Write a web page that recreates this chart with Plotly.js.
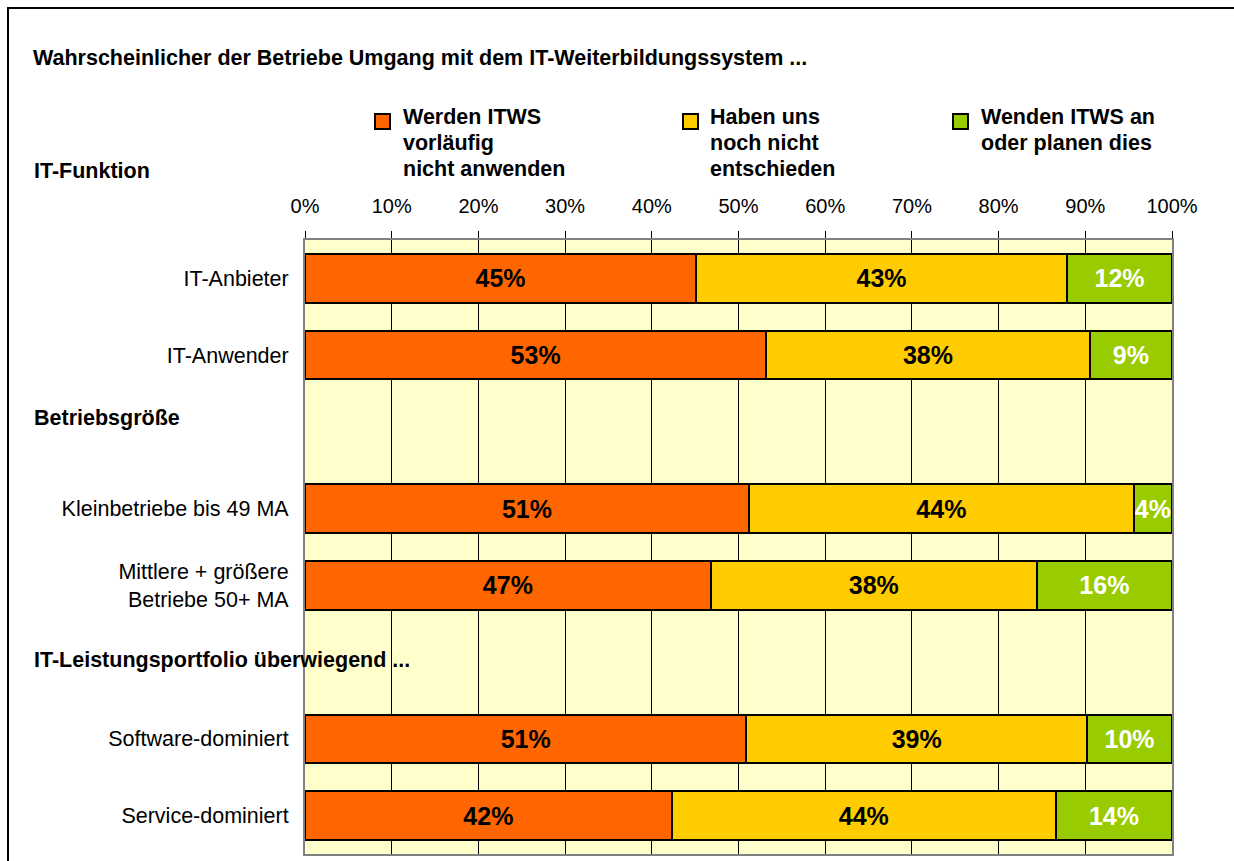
<!DOCTYPE html>
<html>
<head>
<meta charset="utf-8">
<script src="https://cdn.plot.ly/plotly-3.0.1.min.js"></script>
<style>
  html, body { margin: 0; padding: 0; background: #ffffff; }
  #chart { width: 1234px; height: 861px; }
</style>
</head>
<body>
<div id="chart"></div>
<script>
// ---- data ----
const categories = [
  'IT-Anbieter',
  'IT-Anwender',
  ' ',
  'Kleinbetriebe bis 49 MA',
  'Mittlere + größere<br>Betriebe 50+ MA',
  '  ',
  'Software-dominiert',
  'Service-dominiert'
];
const seriesNames = [
  'Werden ITWS<br>vorläufig<br>nicht anwenden',
  'Haben uns<br>noch nicht<br>entschieden',
  'Wenden ITWS an<br>oder planen dies'
];
const notApplying = [45.1, 53.2, null, 51.2, 46.8, null, 50.9, 42.3];
const undecided   = [42.8, 37.3, null, 44.4, 37.6, null, 39.3, 44.3];
const applying    = [12.1,  9.5, null,  4.4, 15.6, null,  9.8, 13.4];
const notApplyingLabels = ['45%', '53%', '', '51%', '47%', '', '51%', '42%'];
const undecidedLabels   = ['43%', '38%', '', '44%', '38%', '', '39%', '44%'];
const applyingLabels    = ['12%', '9%',  '', '4%',  '16%', '', '10%', '14%'];
const tickValues = [0, 10, 20, 30, 40, 50, 60, 70, 80, 90, 100];
const tickLabels = ['0%', '10%', '20%', '30%', '40%', '50%', '60%', '70%', '80%', '90%', '100%'];
const chartTitle = 'Wahrscheinlicher der Betriebe Umgang mit dem IT-Weiterbildungssystem ...';
const groupHeadings = ['IT-Funktion', 'Betriebsgröße', 'IT-Leistungsportfolio überwiegend ...'];

// ---- styles / geometry ----
const W = 1234, H = 861;
const M = {l: 305, r: 62, t: 240, b: 7};
const plotW = W - M.l - M.r, plotH = H - M.t - M.b;
const px = x => (x - M.l) / plotW;
const py = y => (H - M.b - y) / plotH;
const colors = ['#FF6600', '#FFCC00', '#99CC00'];
const textColors = ['#000000', '#000000', '#FFFFFF'];
const FONT = '"Liberation Sans", Arial, Helvetica, sans-serif';
const TXT = 21.5;

const values = [notApplying, undecided, applying];
const labels = [notApplyingLabels, undecidedLabels, applyingLabels];

const traces = values.map((v, i) => ({
  type: 'bar',
  orientation: 'h',
  name: seriesNames[i],
  y: categories,
  x: v,
  text: labels[i],
  textposition: 'inside',
  insidetextanchor: 'middle',
  textangle: 0,
  constraintext: 'none',
  textfont: {family: FONT, size: 25, weight: 'bold', color: textColors[i]},
  marker: {color: colors[i], line: {color: '#000000', width: 2}},
  hoverinfo: 'name+x',
  showlegend: false,
  cliponaxis: false
}));

// legend drawn as annotations + squares
const legendPos = [{sx: 375, tx: 401}, {sx: 683, tx: 708}, {sx: 953, tx: 979}];
const legendLineY = [117, 143, 169];
const annotations = [];
const shapes = [];
legendPos.forEach((p, i) => {
  shapes.push({
    type: 'rect', xref: 'paper', yref: 'paper',
    x0: px(p.sx), x1: px(p.sx + 15), y0: py(129), y1: py(114),
    fillcolor: colors[i], line: {color: '#000000', width: 2}
  });
  seriesNames[i].split('<br>').forEach((line, j) => {
    annotations.push({
      xref: 'paper', yref: 'paper', x: px(p.tx), y: py(legendLineY[j]),
      xanchor: 'left', yanchor: 'middle', align: 'left', showarrow: false,
      text: line,
      font: {family: FONT, size: TXT, weight: 'bold', color: '#000000'}
    });
  });
});
const headingY = [171, 418, 660];
groupHeadings.forEach((h, i) => {
  annotations.push({
    xref: 'paper', yref: 'paper', x: px(32), y: py(headingY[i]),
    xanchor: 'left', yanchor: 'middle', showarrow: false,
    text: h,
    font: {family: FONT, size: TXT, weight: 'bold', color: '#000000'}
  });
});
// outer frame
shapes.push({
  type: 'rect', xref: 'paper', yref: 'paper', layer: 'below',
  x0: px(8), x1: px(1260), y0: py(900), y1: py(8),
  line: {color: '#000000', width: 2}, fillcolor: 'rgba(0,0,0,0)'
});

const layout = {
  width: W, height: H,
  margin: M,
  paper_bgcolor: '#FFFFFF',
  plot_bgcolor: '#FFFFCC',
  barmode: 'stack',
  bargap: 0.37,
  showlegend: false,
  font: {family: FONT, size: 20, color: '#000000'},
  title: {
    text: chartTitle,
    x: 33 / W, xanchor: 'left', xref: 'container',
    y: 1 - 57 / H, yanchor: 'middle', yref: 'container',
    font: {family: FONT, size: TXT, weight: 'bold', color: '#000000'}
  },
  xaxis: {
    side: 'top',
    range: [0, 100],
    tickmode: 'array',
    tickvals: tickValues,
    ticktext: tickLabels,
    ticks: 'outside', ticklen: 7, tickwidth: 1, tickcolor: '#000000',
    ticklabelstandoff: 10,
    tickfont: {family: FONT, size: 20, color: '#000000'},
    showgrid: true, gridcolor: '#000000', gridwidth: 1,
    showline: true, linecolor: '#808080', linewidth: 2, mirror: true,
    zeroline: false, fixedrange: true
  },
  yaxis: {
    type: 'category',
    categoryorder: 'array',
    categoryarray: categories,
    autorange: 'reversed',
    ticks: '',
    ticklabelstandoff: 10,
    tickfont: {family: FONT, size: TXT, color: '#000000'},
    showgrid: false,
    showline: true, linecolor: '#808080', linewidth: 2, mirror: true,
    zeroline: false, fixedrange: true
  },
  annotations: annotations,
  shapes: shapes
};

Plotly.newPlot('chart', traces, layout, {displayModeBar: false, staticPlot: true});
</script>
</body>
</html>
